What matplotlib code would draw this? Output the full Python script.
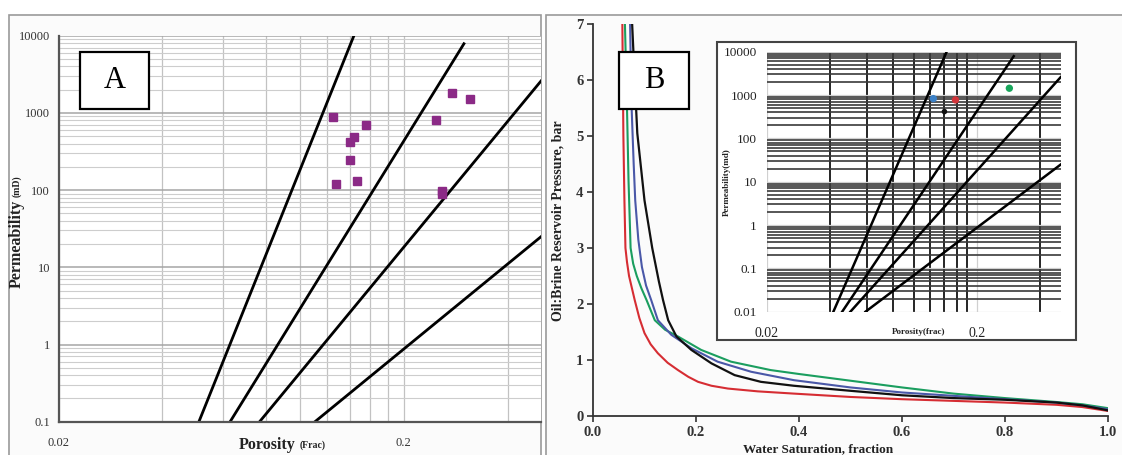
import numpy as np
import matplotlib.pyplot as plt
from matplotlib import ticker
from matplotlib.patches import Rectangle

plt.rcParams['font.family'] = ['Liberation Serif', 'DejaVu Serif']

W, H = 1122, 455

# panel A: core plug porosity / permeability
phi_a = [0.125, 0.156, 0.144, 0.140, 0.140, 0.127, 0.147, 0.249, 0.276, 0.311, 0.258, 0.259]
k_a = [893, 697, 492, 416, 245, 120, 131, 809, 1827, 1500, 98, 90]

# pore throat radius lines, (porosity, permeability) at both ends
line_phi = [(0.0415, 0.1435), (0.0457, 0.299), (0.050, 0.5), (0.059, 0.5)]
line_k = [(0.01, 10000), (0.01, 7870), (0.01, 2590), (0.01, 24.9)]

# panel B: capillary pressure curves
sw_red = [0.057, 0.059, 0.061, 0.063, 0.066, 0.070, 0.081, 0.090, 0.100, 0.112, 0.126, 0.145, 0.165, 0.185, 0.204, 0.230, 0.262, 0.320, 0.390, 0.500, 0.600, 0.700, 0.800, 0.900, 0.950, 1.000]
p_red = [7.00, 5.00, 3.85, 3.00, 2.75, 2.50, 2.07, 1.75, 1.48, 1.28, 1.12, 0.95, 0.82, 0.70, 0.61, 0.54, 0.49, 0.44, 0.40, 0.34, 0.30, 0.27, 0.24, 0.20, 0.16, 0.09]
sw_grn = [0.062, 0.066, 0.069, 0.073, 0.078, 0.085, 0.094, 0.104, 0.120, 0.140, 0.165, 0.210, 0.268, 0.345, 0.400, 0.500, 0.600, 0.700, 0.800, 0.900, 0.950, 1.000]
p_grn = [7.00, 5.50, 4.20, 3.00, 2.72, 2.50, 2.28, 2.07, 1.71, 1.54, 1.42, 1.18, 0.97, 0.82, 0.75, 0.63, 0.51, 0.40, 0.32, 0.25, 0.21, 0.14]
sw_blu = [0.072, 0.075, 0.079, 0.082, 0.088, 0.095, 0.103, 0.113, 0.126, 0.152, 0.191, 0.242, 0.307, 0.390, 0.500, 0.600, 0.700, 0.800, 0.900, 0.950, 1.000]
p_blu = [7.00, 5.50, 4.50, 3.85, 3.15, 2.66, 2.33, 2.07, 1.71, 1.45, 1.21, 0.97, 0.79, 0.64, 0.51, 0.42, 0.36, 0.30, 0.24, 0.19, 0.12]
sw_blk = [0.076, 0.080, 0.086, 0.100, 0.115, 0.128, 0.136, 0.146, 0.162, 0.191, 0.230, 0.275, 0.326, 0.390, 0.500, 0.600, 0.700, 0.800, 0.900, 0.950, 1.000]
p_blk = [7.00, 6.20, 5.05, 3.85, 3.00, 2.40, 2.07, 1.71, 1.42, 1.18, 0.94, 0.73, 0.61, 0.54, 0.45, 0.37, 0.32, 0.29, 0.24, 0.19, 0.10]

# inset samples
phi_b = [0.124, 0.158, 0.140, 0.285]
k_b = [826, 771, 415, 1435]
col_b = ['#3b80c6', '#d2343a', '#111111', '#17a65b']
size_b = [28, 28, 16, 28]


def fx(px):
    return px / W


def fy(py):
    return 1 - py / H


def frac_fmt(v, pos):
    return f'{v:g}'


fig = plt.figure(figsize=(W / 100, H / 100), dpi=100)

# panel frames
fig.patches.append(Rectangle((fx(9), -0.02), fx(532), fy(15) + 0.02, transform=fig.transFigure,
                             facecolor='#fbfbfb', edgecolor='#9a9a9a', lw=1.2, zorder=-5))
fig.patches.append(Rectangle((fx(546), -0.02), fx(600), fy(15) + 0.02, transform=fig.transFigure,
                             facecolor='#fbfbfb', edgecolor='#9a9a9a', lw=1.2, zorder=-5))

# ---------------- panel A ----------------
ax = fig.add_axes([fx(58.5), fy(421.7), fx(482.5), (421.7 - 35.7) / H])
ax.set_xscale('log')
ax.set_yscale('log')
ax.set_xlim(0.02, 0.5)
ax.set_ylim(0.1, 10000)
ax.xaxis.set_major_locator(ticker.FixedLocator([0.02, 0.2]))
ax.xaxis.set_minor_locator(ticker.FixedLocator(list(np.arange(0.04, 0.19, 0.02)) + [0.4]))
ax.yaxis.set_major_locator(ticker.LogLocator(base=10))
ax.yaxis.set_minor_locator(ticker.LogLocator(base=10, subs=np.arange(2, 10)))
ax.xaxis.set_major_formatter(ticker.FuncFormatter(frac_fmt))
ax.yaxis.set_major_formatter(ticker.FuncFormatter(frac_fmt))
ax.xaxis.set_minor_formatter(ticker.NullFormatter())
ax.yaxis.set_minor_formatter(ticker.NullFormatter())
ax.grid(which='major', axis='y', color='#a5a5a5', lw=1.1)
ax.grid(which='minor', axis='y', color='#cdcdcd', lw=0.8)
ax.grid(which='both', axis='x', color='#c2c2c2', lw=0.9)
ax.set_axisbelow(True)
for s in ['top', 'right']:
    ax.spines[s].set_visible(False)
for s in ['left', 'bottom']:
    ax.spines[s].set_color('#555555')
    ax.spines[s].set_linewidth(1.6)
ax.tick_params(which='both', length=0, labelsize=9, colors='#333333')
ax.tick_params(axis='x', pad=11)
ax.tick_params(axis='y', pad=6)

for (p0, p1), (k0, k1) in zip(line_phi, line_k):
    ax.plot([p0, p1], [k0, k1], color='black', lw=2.0)
ax.plot(phi_a, k_a, 's', ms=6, color='#8b2a86', ls='none')

t1 = fig.text(fx(17), fy(244), 'Permeability', rotation=90, fontsize=11.5, fontweight='bold',
              ha='center', va='center', color='#222222')
ax.annotate('(mD)', xy=(0.5, 1), xycoords=t1, xytext=(0, 2), textcoords='offset points',
            rotation=90, fontsize=7, fontweight='bold', ha='center', va='bottom',
            color='#222222', annotation_clip=False)
t2 = fig.text(fx(267), fy(445), 'Porosity', fontsize=11.5, fontweight='bold',
              ha='center', va='center', color='#222222')
ax.annotate('(Frac)', xy=(1, 0), xycoords=t2, xytext=(3, 2), textcoords='offset points',
            fontsize=7, fontweight='bold', ha='left', va='bottom', color='#222222',
            annotation_clip=False)

fig.patches.append(Rectangle((fx(80), fy(109)), fx(69), 57 / H, transform=fig.transFigure,
                             facecolor='white', edgecolor='black', lw=1.6, zorder=3))
fig.text(fx(114.5), fy(81), 'A', fontsize=22, ha='center', va='center', zorder=4)

# ---------------- panel B ----------------
bx = fig.add_axes([fx(593), fy(416), fx(515), (416 - 24) / H])
bx.set_facecolor('none')
bx.set_xlim(0, 1)
bx.set_ylim(0, 7)
bx.set_xticks(np.arange(0, 1.01, 0.2))
bx.set_yticks(range(0, 8))
bx.xaxis.set_major_formatter(ticker.FormatStrFormatter('%.1f'))
for s in ['top', 'right']:
    bx.spines[s].set_visible(False)
for s in ['left', 'bottom']:
    bx.spines[s].set_color('#333333')
    bx.spines[s].set_linewidth(1.3)
bx.tick_params(direction='out', length=4, width=1.2, labelsize=10.5, pad=3, colors='#333333')
for lbl in bx.get_xticklabels() + bx.get_yticklabels():
    lbl.set_fontweight('bold')

bx.plot(sw_red, p_red, color='#d62d33', lw=1.5)
bx.plot(sw_grn, p_grn, color='#1b9e5f', lw=1.5)
bx.plot(sw_blu, p_blu, color='#4a58a8', lw=1.5)
bx.plot(sw_blk, p_blk, color='#111111', lw=1.6)

fig.text(fx(818), fy(449), 'Water Saturation, fraction', fontsize=9.5, fontweight='bold',
         ha='center', va='center', color='#222222')
fig.text(fx(558), fy(221), 'Oil:Brine Reservoir Pressure, bar', rotation=90, fontsize=10,
         fontweight='bold', ha='center', va='center', color='#222222')

fig.patches.append(Rectangle((fx(619), fy(109)), fx(70), 57 / H, transform=fig.transFigure,
                             facecolor='white', edgecolor='black', lw=1.6, zorder=3))
fig.text(fx(654), fy(81), 'B', fontsize=22, ha='center', va='center', zorder=4)

# inset frame and axes
fig.patches.append(Rectangle((fx(717), fy(340)), fx(359), 298 / H, transform=fig.transFigure,
                             facecolor='white', edgecolor='#444444', lw=1.5, zorder=1))
ix = fig.add_axes([fx(766.7), fy(311.7), fx(294), 260 / H], zorder=2)
ix.set_xscale('log')
ix.set_yscale('log')
ix.set_xlim(0.02, 0.5)
ix.set_ylim(0.01, 10000)
ix.xaxis.set_major_locator(ticker.FixedLocator([0.02, 0.2]))
ix.xaxis.set_minor_locator(ticker.FixedLocator(list(np.arange(0.04, 0.19, 0.02)) + [0.4]))
ix.yaxis.set_major_locator(ticker.LogLocator(base=10))
ix.yaxis.set_minor_locator(ticker.LogLocator(base=10, subs=np.arange(2, 10)))
ix.xaxis.set_major_formatter(ticker.FuncFormatter(frac_fmt))
ix.yaxis.set_major_formatter(ticker.FuncFormatter(frac_fmt))
ix.xaxis.set_minor_formatter(ticker.NullFormatter())
ix.yaxis.set_minor_formatter(ticker.NullFormatter())
ix.grid(which='major', color='#d0d0d0', lw=0.9)
ix.grid(which='minor', axis='y', color='#3a3a3a', lw=1.2)
ix.grid(which='minor', axis='x', color='#000000', lw=1.2)
ix.set_axisbelow(True)
for s in ix.spines.values():
    s.set_visible(False)
ix.tick_params(which='both', length=0, labelsize=9.5, colors='#222222')
ix.tick_params(axis='x', pad=11, labelsize=10)
ix.tick_params(axis='y', pad=7)

for (p0, p1), (k0, k1) in zip(line_phi, line_k):
    ix.plot([p0, p1], [k0, k1], color='black', lw=1.8)
ix.scatter(phi_b, k_b, c=col_b, s=size_b, zorder=4, linewidths=0)

fig.text(fx(727), fy(182), 'Permeability(md)', rotation=90, fontsize=6.5, fontweight='bold',
         ha='center', va='center', color='#222222')
fig.text(fx(919), fy(332), 'Porosity(frac)', fontsize=6.5, fontweight='bold',
         ha='center', va='center', color='#222222')

fig.savefig('out.png', dpi=100)
